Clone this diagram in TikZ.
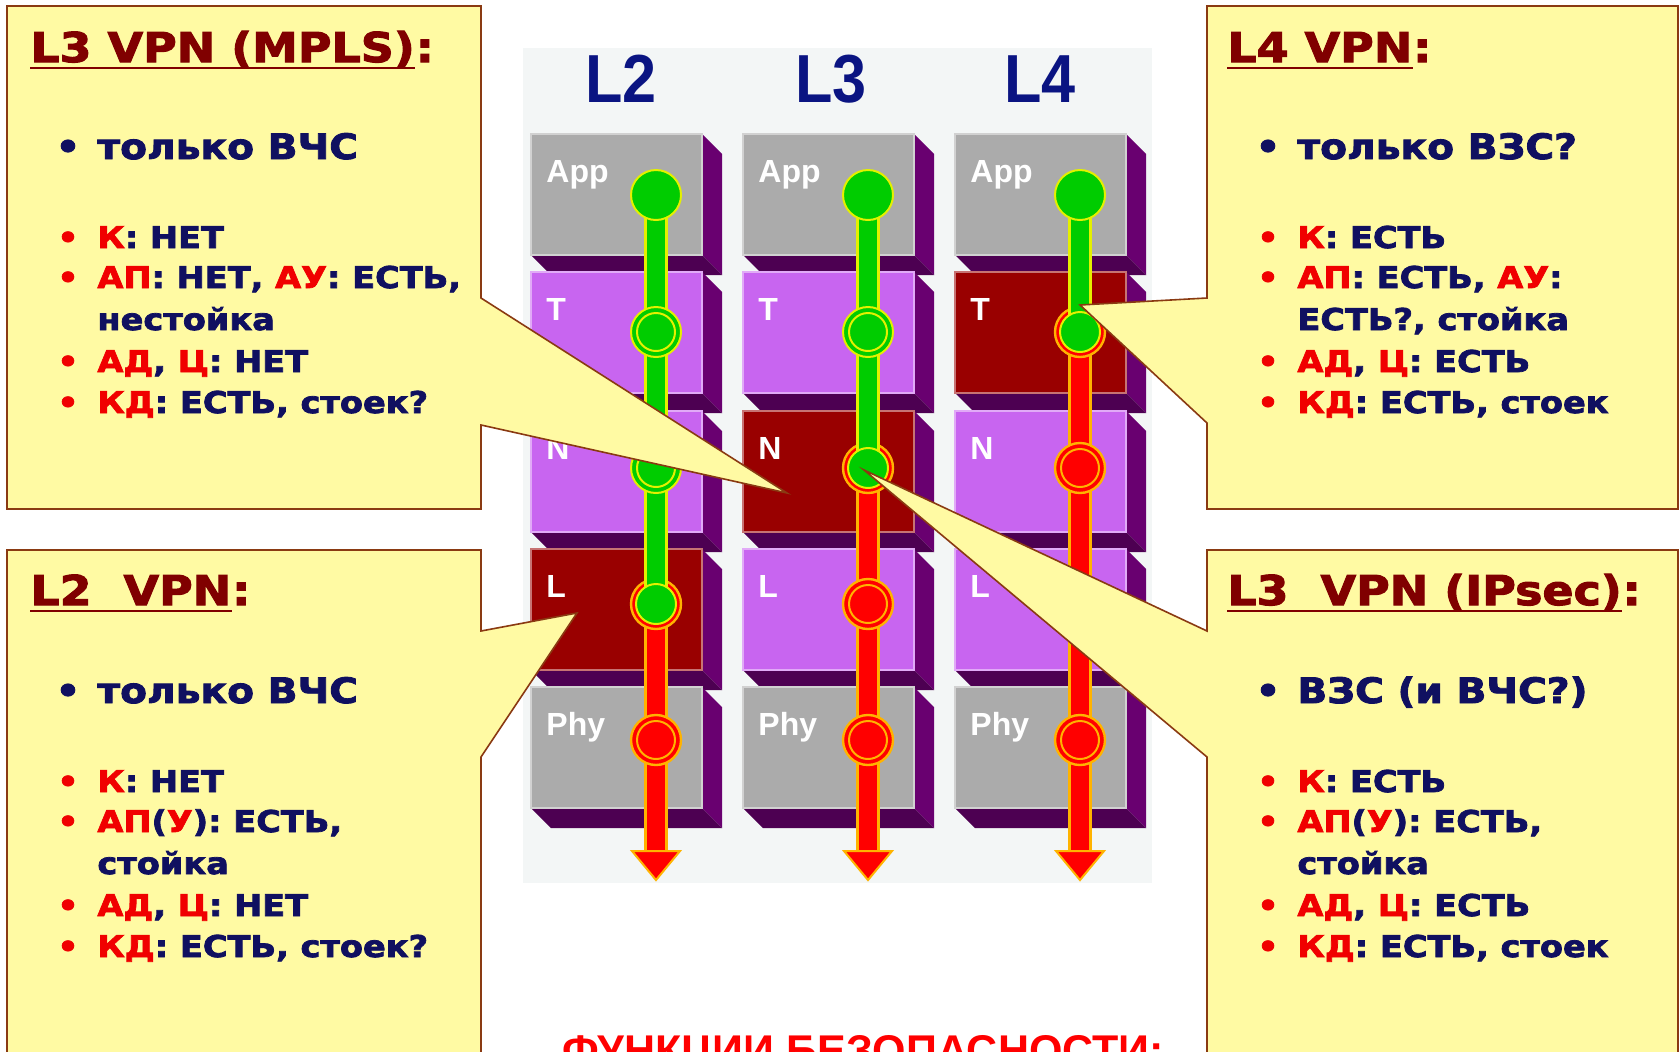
\documentclass[tikz,border=0pt]{standalone}
\usepackage{fontspec}
\newfontfamily\heavy[FakeStretch=1.12,FakeBold=2.5]{DejaVu Sans}
\newfontfamily\lib{Liberation Sans}
\newfontfamily\libnarrow[FakeStretch=0.9]{Liberation Sans}
\definecolor{cPanel}{HTML}{F3F6F6}
\definecolor{cGrey}{HTML}{ABABAB}
\definecolor{cPurp}{HTML}{C865F0}
\definecolor{cDark}{HTML}{990000}
\definecolor{cSide}{HTML}{690070}
\definecolor{cBot}{HTML}{4D0052}
\definecolor{cGreen}{HTML}{00CC00}
\definecolor{cGOut}{HTML}{E4F000}
\definecolor{cRedA}{HTML}{FF0000}
\definecolor{cROut}{HTML}{FFB300}
\definecolor{cCall}{HTML}{FFFAA3}
\definecolor{cCallB}{HTML}{8A3A12}
\definecolor{cNavy}{HTML}{101060}
\definecolor{cTitle}{HTML}{800000}
\definecolor{cRedT}{HTML}{F00000}
\definecolor{cHead}{HTML}{0A1482}
\newcommand\rd[1]{\textcolor{cRedT}{#1}}
\newcommand\blk[5]{%
  \fill[cSide] (#1+171,#2) -- (#1+191,#2+20) -- (#1+191,#2+141) -- (#1+171,#2+121) -- cycle;
  \fill[cBot] (#1,#2+121) -- (#1+171,#2+121) -- (#1+191,#2+141) -- (#1+20,#2+141) -- cycle;
  \filldraw[fill=#3, draw=#3!55!white, line width=0.6pt] (#1,#2) rectangle ++(171,121);
  \node[lab] (#5) at (#1+15,#2+48) {#4};
}
\newcommand\gstem[3]{%
  \draw[line width=12pt, cGOut] (#1,#2) -- (#1,#3);
  \draw[line width=9pt, cGreen] (#1,#2) -- (#1,#3);
}
\newcommand\rstem[3]{%
  \draw[line width=12pt, cROut] (#1,#2) -- (#1,#3);
  \draw[line width=9pt, cRedA] (#1,#2) -- (#1,#3);
}
\newcommand\gring[2]{%
  \filldraw[fill=cGreen, draw=cGOut, line width=1pt] (#1,#2) circle (25);
  \draw[cGOut, line width=1pt] (#1,#2) circle (19);
}
\newcommand\rring[2]{%
  \filldraw[fill=cRedA, draw=cROut, line width=1.2pt] (#1,#2) circle (25);
  \draw[cROut, line width=1pt] (#1,#2) circle (19);
}
\newcommand\ahead[1]{%
  \filldraw[fill=cRedA, draw=cROut, line width=1pt, line join=miter] (#1-24,851) -- (#1+24,851) -- (#1,880) -- cycle;
}
\tikzset{
  lab/.style={anchor=base west, inner sep=0pt, text=white, font=\lib\bfseries\fontsize{16}{18}\selectfont},
  head/.style={inner sep=0pt, text=cHead, font=\libnarrow\bfseries\fontsize{34}{36}\selectfont},
  callout/.style={fill=cCall, draw=cCallB, line width=0.8pt, line join=miter},
  body/.style={anchor=base west, inner sep=0pt, text=cNavy, font=\heavy\bfseries\fontsize{15}{18}\selectfont},
  big/.style={body, font=\heavy\bfseries\fontsize{17.5}{20}\selectfont},
  bul/.style={anchor=base, inner sep=0pt, text=cRedT, font=\heavy\bfseries\fontsize{15}{18}\selectfont},
  bigbul/.style={bul, text=cNavy, font=\heavy\bfseries\fontsize{17.5}{20}\selectfont},
  title/.style={anchor=base west, inner sep=0pt, text=cTitle, font=\heavy\bfseries\fontsize{20.5}{24}\selectfont},
  uline/.style={cTitle, line width=1.3pt},
  foot/.style={anchor=base west, inner sep=0pt, text=cRedA, font=\lib\bfseries\fontsize{21.5}{24}\selectfont}
}
\begin{document}
\begin{tikzpicture}[x=0.5pt,y=-0.5pt]
\useasboundingbox (0,0) rectangle (1680,1051);
\fill[white] (0,0) rectangle (1680,1051);
\fill[cPanel] (523,48) rectangle (1152,883);
% headings
\node[head] (hL2) at (621,79) {L2};
\node[head] (hL3) at (831,79) {L3};
\node[head] (hL4) at (1040,79) {L4};
% column L2
\blk{531}{134}{cGrey}{App}{aApp}
\blk{531}{272}{cPurp}{T}{aT}
\blk{531}{411}{cPurp}{N}{aN}
\blk{531}{549}{cDark}{L}{aL}
\blk{531}{687}{cGrey}{Phy}{aPhy}
% column L3
\blk{743}{134}{cGrey}{App}{bApp}
\blk{743}{272}{cPurp}{T}{bT}
\blk{743}{411}{cDark}{N}{bN}
\blk{743}{549}{cPurp}{L}{bL}
\blk{743}{687}{cGrey}{Phy}{bPhy}
% column L4
\blk{955}{134}{cGrey}{App}{cApp}
\blk{955}{272}{cDark}{T}{cT}
\blk{955}{411}{cPurp}{N}{cN}
\blk{955}{549}{cPurp}{L}{cL}
\blk{955}{687}{cGrey}{Phy}{cPhy}
% flows L2
\rstem{656}{604}{852}
\ahead{656}
\rring{656}{604}
\rring{656}{740}
\gstem{656}{195}{604}
\gring{656}{332}
\gring{656}{468}
\filldraw[fill=cGreen, draw=cGOut, line width=1pt] (656,195) circle (25);
\filldraw[fill=cGreen, draw=cGOut, line width=1pt] (656,604) circle (20);
% flows L3
\rstem{868}{468}{852}
\ahead{868}
\rring{868}{468}
\rring{868}{604}
\rring{868}{740}
\gstem{868}{195}{468}
\gring{868}{332}
\filldraw[fill=cGreen, draw=cGOut, line width=1pt] (868,195) circle (25);
\filldraw[fill=cGreen, draw=cGOut, line width=1pt] (868,468) circle (20);
% flows L4
\rstem{1080}{332}{852}
\ahead{1080}
\rring{1080}{332}
\rring{1080}{468}
\rring{1080}{604}
\rring{1080}{740}
\gstem{1080}{195}{332}
\filldraw[fill=cGreen, draw=cGOut, line width=1pt] (1080,195) circle (25);
\filldraw[fill=cGreen, draw=cGOut, line width=1pt] (1080,332) circle (20);
% callouts
\filldraw[callout] (7,6) -- (481,6) -- (481,298) -- (787,493) -- (481,425) -- (481,509) -- (7,509) -- cycle;
\filldraw[callout] (7,550) -- (481,550) -- (481,631) -- (577,613) -- (481,757) -- (481,1070) -- (7,1070) -- cycle;
\filldraw[callout] (1207,6) -- (1678,6) -- (1678,509) -- (1207,509) -- (1207,423) -- (1080,305) -- (1207,298) -- cycle;
\filldraw[callout] (1207,550) -- (1678,550) -- (1678,1070) -- (1207,1070) -- (1207,757) -- (864,470) -- (1207,631) -- cycle;
% top-left text
\node[title] (tlT) at (30,62) {L3 VPN (MPLS)};
\node[title] (tlC) at (tlT.base east) {:};
\draw[uline] ([yshift=-3pt]tlT.base west) -- ([yshift=-3pt]tlT.base east);
\node[bigbul] (tlb1) at (68,159) {•};
\node[big] (tl1) at (97,159) {только ВЧС};
\node[bul] (tlb2) at (68,248) {•};
\node[body] (tl2) at (97,248) {\rd{К}: НЕТ};
\node[bul] (tlb3) at (68,288) {•};
\node[body] (tl3) at (97,288) {\rd{АП}: НЕТ, \rd{АУ}: ЕСТЬ,};
\node[body] (tl4) at (97,330) {нестойка};
\node[bul] (tlb5) at (68,372) {•};
\node[body] (tl5) at (97,372) {\rd{АД}, \rd{Ц}: НЕТ};
\node[bul] (tlb6) at (68,413) {•};
\node[body] (tl6) at (97,413) {\rd{КД}: ЕСТЬ, стоек?};
% bottom-left text
\node[title] (blT) at (30,605) {L2~~VPN};
\node[title] (blC) at (blT.base east) {:};
\draw[uline] ([yshift=-3pt]blT.base west) -- ([yshift=-3pt]blT.base east);
\node[bigbul] (blb1) at (68,703) {•};
\node[big] (bl1) at (97,703) {только ВЧС};
\node[bul] (blb2) at (68,792) {•};
\node[body] (bl2) at (97,792) {\rd{К}: НЕТ};
\node[bul] (blb3) at (68,832) {•};
\node[body] (bl3) at (97,832) {\rd{АП}(\rd{У}): ЕСТЬ,};
\node[body] (bl4) at (97,874) {стойка};
\node[bul] (blb5) at (68,916) {•};
\node[body] (bl5) at (97,916) {\rd{АД}, \rd{Ц}: НЕТ};
\node[bul] (blb6) at (68,957) {•};
\node[body] (bl6) at (97,957) {\rd{КД}: ЕСТЬ, стоек?};
% top-right text
\node[title] (trT) at (1227,62) {L4 VPN};
\node[title] (trC) at (trT.base east) {:};
\draw[uline] ([yshift=-3pt]trT.base west) -- ([yshift=-3pt]trT.base east);
\node[bigbul] (trb1) at (1268,159) {•};
\node[big] (tr1) at (1297,159) {только ВЗС?};
\node[bul] (trb2) at (1268,248) {•};
\node[body] (tr2) at (1297,248) {\rd{К}: ЕСТЬ};
\node[bul] (trb3) at (1268,288) {•};
\node[body] (tr3) at (1297,288) {\rd{АП}: ЕСТЬ, \rd{АУ}:};
\node[body] (tr4) at (1297,330) {ЕСТЬ?, стойка};
\node[bul] (trb5) at (1268,372) {•};
\node[body] (tr5) at (1297,372) {\rd{АД}, \rd{Ц}: ЕСТЬ};
\node[bul] (trb6) at (1268,413) {•};
\node[body] (tr6) at (1297,413) {\rd{КД}: ЕСТЬ, стоек};
% bottom-right text
\node[title] (brT) at (1227,605) {L3~~VPN (IPsec)};
\node[title] (brC) at (brT.base east) {:};
\draw[uline] ([yshift=-3pt]brT.base west) -- ([yshift=-3pt]brT.base east);
\node[bigbul] (brb1) at (1268,703) {•};
\node[big] (br1) at (1297,703) {ВЗС (и ВЧС?)};
\node[bul] (brb2) at (1268,792) {•};
\node[body] (br2) at (1297,792) {\rd{К}: ЕСТЬ};
\node[bul] (brb3) at (1268,832) {•};
\node[body] (br3) at (1297,832) {\rd{АП}(\rd{У}): ЕСТЬ,};
\node[body] (br4) at (1297,874) {стойка};
\node[bul] (brb5) at (1268,916) {•};
\node[body] (br5) at (1297,916) {\rd{АД}, \rd{Ц}: ЕСТЬ};
\node[bul] (brb6) at (1268,957) {•};
\node[body] (br6) at (1297,957) {\rd{КД}: ЕСТЬ, стоек};
% footer (cut by the page edge, as in the reference)
\node[foot] (foot) at (562,1065) {ФУНКЦИИ БЕЗОПАСНОСТИ:};
\end{tikzpicture}
\end{document}
